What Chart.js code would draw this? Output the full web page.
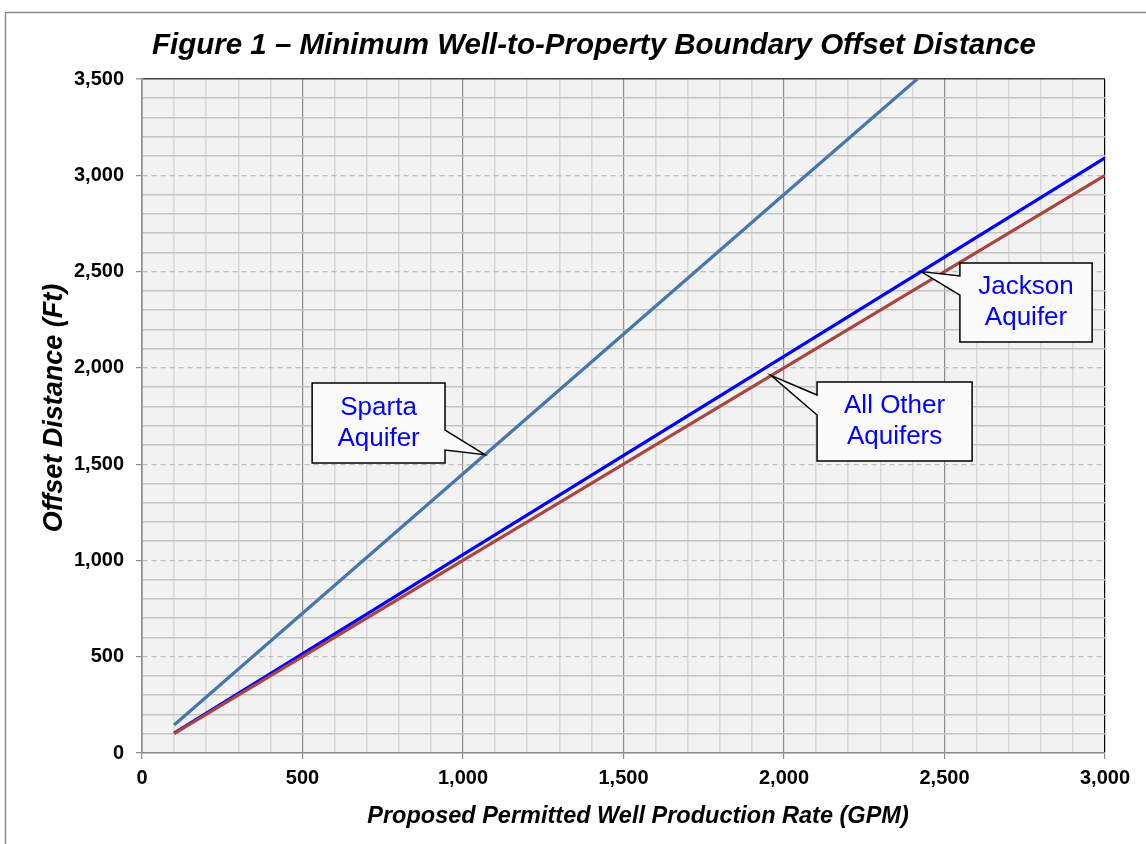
<!DOCTYPE html>
<html>
<head>
<meta charset="utf-8">
<title>Figure 1 – Minimum Well-to-Property Boundary Offset Distance</title>
<script src="https://cdn.jsdelivr.net/npm/chart.js@4.4.1/dist/chart.umd.min.js"></script>
<style>
  html, body { margin: 0; padding: 0; background: #fff; }
  #wrap { width: 1146px; height: 844px; }
</style>
</head>
<body>
<div id="wrap"><canvas id="offsetChart" width="1146" height="844"></canvas></div>
<script>
const FONT = "'Liberation Sans', Arial, sans-serif";

/* =========================
   DATA
========================== */
const spartaGpm = [100, 1000, 2000, 2415];
const spartaFt = [145, 1450, 2900, 3500];

const jacksonGpm = [100, 1000, 2000, 3000];
const jacksonFt = [103, 1030, 2060, 3090];

const otherGpm = [100, 1000, 2000, 3000];
const otherFt = [100, 1000, 2000, 3000];

const xMin = 0, xMax = 3000;
const yMin = 0, yMax = 3500;
const minorStep = 100;
const labelStep = 500;

const titleText = "Figure 1 – Minimum Well-to-Property Boundary Offset Distance";
const xTitleText = "Proposed Permitted Well Production Rate (GPM)";
const yTitleText = "Offset Distance (Ft)";

// callout boxes, in data units (tip = where the pointer touches the line)
const calloutLines = [["Sparta", "Aquifer"], ["Jackson", "Aquifer"], ["All Other", "Aquifers"]];
const calloutBoxX = [[530, 944], [2548, 2960], [2103, 2586]];
const calloutBoxY = [[1921, 1506], [2545, 2134], [1927, 1516]];
const calloutSide = ["right", "left", "left"];
const calloutBase = [[1677, 1573], [2477, 2378], [1859, 1755]];
const calloutTip = [[1068, 1549], [2427, 2500], [1960, 1960]];

function toPoints(xs, ys) {
    return xs.map((x, i) => ({ x, y: ys[i] }));
}

function fmt(v) {
    return v.toLocaleString("en-US");
}

const isLabelTick = v => v % labelStep === 0;

/* =========================
   PLUGINS
========================== */
const plotBackground = {
    id: "plotBackground",
    beforeDraw(chart) {
        const { ctx, chartArea: a } = chart;
        ctx.save();
        ctx.fillStyle = "#ffffff";
        ctx.fillRect(0, 0, chart.width, chart.height);
        ctx.strokeStyle = "#8a8a8a";
        ctx.lineWidth = 1.5;
        ctx.strokeRect(5.5, 12.5, chart.width + 20, chart.height + 20);
        ctx.fillStyle = "#f2f2f2";
        ctx.fillRect(a.left, a.top, a.right - a.left, a.bottom - a.top);
        ctx.restore();
    }
};

const textLayer = {
    id: "textLayer",
    afterDraw(chart) {
        const { ctx } = chart;
        const xs = chart.scales.x;
        const ys = chart.scales.y;

        ctx.save();
        ctx.fillStyle = "#000";
        ctx.textAlign = "center";
        ctx.textBaseline = "alphabetic";

        ctx.font = "italic bold 29.5px " + FONT;
        ctx.fillText(titleText, 594, 54);

        ctx.font = "italic bold 23.5px " + FONT;
        ctx.fillText(xTitleText, 638, 823);

        ctx.save();
        ctx.translate(62, 408);
        ctx.rotate(-Math.PI / 2);
        ctx.font = "italic bold 27px " + FONT;
        ctx.fillText(yTitleText, 0, 0);
        ctx.restore();

        // callouts
        calloutLines.forEach((lines, i) => {
            const left = xs.getPixelForValue(calloutBoxX[i][0]);
            const right = xs.getPixelForValue(calloutBoxX[i][1]);
            const top = ys.getPixelForValue(calloutBoxY[i][0]);
            const bottom = ys.getPixelForValue(calloutBoxY[i][1]);
            const b1 = ys.getPixelForValue(calloutBase[i][0]);
            const b2 = ys.getPixelForValue(calloutBase[i][1]);
            const tx = xs.getPixelForValue(calloutTip[i][0]);
            const ty = ys.getPixelForValue(calloutTip[i][1]);

            ctx.beginPath();
            ctx.moveTo(left, top);
            ctx.lineTo(right, top);
            if (calloutSide[i] === "right") {
                ctx.lineTo(right, b1);
                ctx.lineTo(tx, ty);
                ctx.lineTo(right, b2);
            }
            ctx.lineTo(right, bottom);
            ctx.lineTo(left, bottom);
            if (calloutSide[i] === "left") {
                ctx.lineTo(left, b2);
                ctx.lineTo(tx, ty);
                ctx.lineTo(left, b1);
            }
            ctx.closePath();
            ctx.fillStyle = "#fbfbfb";
            ctx.fill();
            ctx.lineWidth = 1.5;
            ctx.strokeStyle = "#000";
            ctx.lineJoin = "miter";
            ctx.stroke();

            const cx = (left + right) / 2;
            const cy = (top + bottom) / 2;
            ctx.fillStyle = "#0000ff";
            ctx.font = "26px " + FONT;
            ctx.fillText(lines[0], cx, cy - 8);
            ctx.fillText(lines[1], cx, cy + 23);
        });

        ctx.restore();
    }
};

/* =========================
   CHART
========================== */
const ctx = document.getElementById("offsetChart").getContext("2d");

new Chart(ctx, {
    type: "line",
    data: {
        datasets: [
            {
                label: "All Other Aquifers",
                data: toPoints(otherGpm, otherFt),
                borderColor: "#a9463f",
                borderWidth: 3.2
            },
            {
                label: "Jackson Aquifer",
                data: toPoints(jacksonGpm, jacksonFt),
                borderColor: "#0000ff",
                borderWidth: 3.2
            },
            {
                label: "Sparta Aquifer",
                data: toPoints(spartaGpm, spartaFt),
                borderColor: "#4677aa",
                borderWidth: 3.2
            }
        ]
    },
    options: {
        responsive: false,
        animation: false,
        devicePixelRatio: 1,
        elements: {
            point: { radius: 0, hoverRadius: 0 },
            line: { tension: 0, fill: false, borderCapStyle: "butt" }
        },
        layout: {
            padding: { top: 79, right: 41, left: 0, bottom: 0 }
        },
        plugins: {
            legend: { display: false },
            title: { display: false },
            tooltip: { enabled: false }
        },
        scales: {
            x: {
                type: "linear",
                min: xMin,
                max: xMax,
                afterFit: scale => { scale.height = 91; },
                ticks: {
                    stepSize: minorStep,
                    autoSkip: false,
                    maxRotation: 0,
                    minRotation: 0,
                    padding: 7,
                    color: "#000",
                    font: { family: FONT, size: 20, weight: "bold" },
                    callback: v => (isLabelTick(v) ? fmt(v) : "")
                },
                grid: {
                    color: c => {
                        if (!c.tick) return "#d9d9d9";
                        if (c.tick.value === xMax) return "#000000";
                        return isLabelTick(c.tick.value) ? "#8c8c8c" : "#d9d9d9";
                    },
                    lineWidth: c => (c.tick && isLabelTick(c.tick.value) ? 1.2 : 1.6),
                    tickColor: c => (c.tick && isLabelTick(c.tick.value) ? "#8c8c8c" : "rgba(0,0,0,0)"),
                    tickLength: 6,
                    tickWidth: 1.2
                },
                border: { color: "#8c8c8c", width: 1.6 }
            },
            y: {
                type: "linear",
                min: yMin,
                max: yMax,
                afterFit: scale => { scale.width = 142; },
                ticks: {
                    stepSize: minorStep,
                    autoSkip: false,
                    padding: 12,
                    color: "#000",
                    font: { family: FONT, size: 20, weight: "bold" },
                    callback: v => (isLabelTick(v) ? fmt(v) : "")
                },
                grid: {
                    color: c => {
                        if (!c.tick) return "#c4c4c4";
                        if (c.tick.value === yMax) return "#404040";
                        return isLabelTick(c.tick.value) ? "#bdbdbd" : "#c4c4c4";
                    },
                    lineWidth: c => (c.tick && isLabelTick(c.tick.value) && c.tick.value !== yMax ? 1.2 : 1.6),
                    tickColor: c => (c.tick && isLabelTick(c.tick.value) ? "#8c8c8c" : "rgba(0,0,0,0)"),
                    tickLength: 6,
                    tickWidth: 1.2
                },
                border: {
                    color: "#8c8c8c",
                    width: 1.6,
                    dash: c => (c.tick && isLabelTick(c.tick.value) && c.tick.value !== yMax && c.tick.value !== yMin ? [5, 4] : [])
                }
            }
        }
    },
    plugins: [plotBackground, textLayer]
});
</script>
</body>
</html>
